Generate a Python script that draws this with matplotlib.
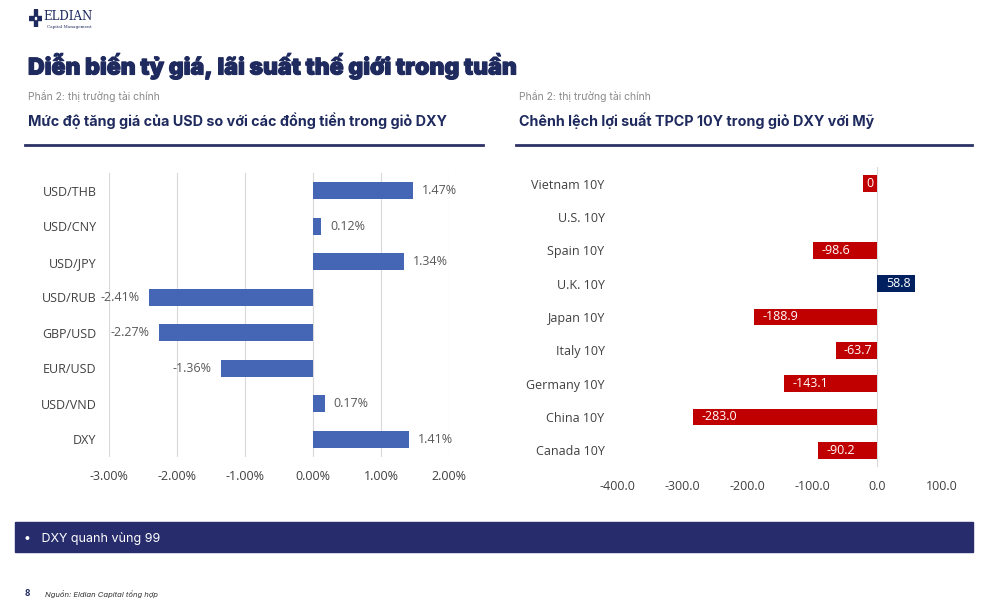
import matplotlib.pyplot as plt
import matplotlib.patches as mpatches
import matplotlib.patheffects as pe
import numpy as np

W, H = 990, 616

# left chart: USD change vs DXY basket currencies (%)
fx_pairs = ["USD/THB", "USD/CNY", "USD/JPY", "USD/RUB", "GBP/USD", "EUR/USD", "USD/VND", "DXY"]
fx_change = [1.47, 0.12, 1.34, -2.41, -2.27, -1.36, 0.17, 1.41]
fx_ticks = [-3, -2, -1, 0, 1, 2]

# right chart: 10Y yield spread vs U.S. (bps)
bonds = ["Vietnam 10Y", "U.S. 10Y", "Spain 10Y", "U.K. 10Y", "Japan 10Y",
         "Italy 10Y", "Germany 10Y", "China 10Y", "Canada 10Y"]
spread = [-21.5, 0.0, -98.6, 58.8, -188.9, -63.7, -143.1, -283.0, -90.2]
spread_labels = ["0", "", "-98.6", "58.8", "-188.9", "-63.7", "-143.1", "-283.0", "-90.2"]
spread_ticks = [-400, -300, -200, -100, 0, 100]

NAVY = "#1f2a5e"
GRAY_TXT = "#595959"
CHART_FONT = "Open Sans"
HEAD_FONT = "Inter"


def px_axes(fig, x0, y0, x1, y1):
    return fig.add_axes([x0 / W, 1 - y1 / H, (x1 - x0) / W, (y1 - y0) / H])


def fx(x):
    return x / W


def fy(y):
    return 1 - y / H


fig = plt.figure(figsize=(9.9, 6.16), dpi=100)
fig.patch.set_facecolor("white")

# logo
ax_logo = px_axes(fig, 29, 9, 42, 27)
ax_logo.set_xlim(0, 1)
ax_logo.set_ylim(0, 1)
ax_logo.axis("off")
ax_logo.add_patch(mpatches.Rectangle((0.38, 0.0), 0.24, 1.0, color=NAVY))
ax_logo.add_patch(mpatches.Rectangle((0.0, 0.38), 1.0, 0.24, color=NAVY))
ax_logo.add_patch(mpatches.Rectangle((0.46, 0.44), 0.08, 0.12, color="white"))
fig.text(fx(43), fy(17), "ELDIAN", family="DejaVu Serif", fontsize=8.5,
         color=NAVY, va="center", ha="left")
fig.text(fx(47), fy(27), "Capital Management", family="DejaVu Serif", fontsize=3,
         color=NAVY, va="center", ha="left")

# headings
fig.text(fx(28), fy(66), "Diễn biến tỷ giá, lãi suất thế giới trong tuần",
         family=HEAD_FONT, fontweight="black", fontsize=16.6, color=NAVY,
         va="center", ha="left",
         path_effects=[pe.withStroke(linewidth=0.8, foreground=NAVY)])
for x0, x1, title in [(27, 483, "Mức độ tăng giá của USD so với các đồng tiền trong giỏ DXY"),
                      (518, 972, "Chênh lệch lợi suất TPCP 10Y trong giỏ DXY với Mỹ")]:
    fig.text(fx(x0 + 1), fy(96), "Phần 2: thị trường tài chính", family=HEAD_FONT,
             fontsize=7.5, color="#8a8a8a", va="center", ha="left")
    fig.text(fx(x0 + 1), fy(121), title, family=HEAD_FONT, fontweight="bold",
             fontsize=10.3, color=NAVY, va="center", ha="left")
    fig.add_artist(plt.Line2D([fx(x0 - 2), fx(x1)], [fy(145), fy(145)],
                              color="#2c3266", lw=2))

# left chart
ax1 = px_axes(fig, 109, 173, 449, 457)
y1 = np.arange(len(fx_pairs))
ax1.barh(y1, fx_change, height=0.49, color="#4566b5", zorder=3)
ax1.set_xlim(-3, 2)
ax1.set_ylim(len(fx_pairs) - 0.5, -0.5)
ax1.set_xticks(fx_ticks)
ax1.set_xticklabels([f"{t:.2f}%" for t in fx_ticks], family=CHART_FONT,
                    fontsize=9, color="#404040")
ax1.set_yticks(y1)
ax1.set_yticklabels(fx_pairs, family=CHART_FONT, fontsize=9, color="#404040")
ax1.tick_params(axis="both", length=0)
ax1.tick_params(axis="y", pad=9)
ax1.tick_params(axis="x", pad=9)
ax1.grid(axis="x", color="#d9d9d9", lw=0.8, zorder=0)
for s in ax1.spines.values():
    s.set_visible(False)
for yi, v in zip(y1, fx_change):
    ax1.annotate(f"{v:.2f}%", (v, yi), xytext=(6.5 if v > 0 else -6.5, 0),
                 textcoords="offset points", ha="left" if v > 0 else "right",
                 va="center", family=CHART_FONT, fontsize=9, color=GRAY_TXT)

# right chart
ax2 = px_axes(fig, 617, 167, 942, 467)
y2 = np.arange(len(bonds))
colors = ["#002060" if v > 0 else "#c00000" for v in spread]
ax2.barh(y2, spread, height=0.5, color=colors, zorder=3)
ax2.set_xlim(-400, 100)
ax2.set_ylim(len(bonds) - 0.5, -0.5)
ax2.axvline(0, color="#d9d9d9", lw=0.8, zorder=1)
ax2.set_xticks(spread_ticks)
ax2.set_xticklabels([f"{t:.1f}" for t in spread_ticks], family=CHART_FONT,
                    fontsize=9, color="#404040")
ax2.set_yticks(y2)
ax2.set_yticklabels(bonds, family=CHART_FONT, fontsize=9, color="#404040")
ax2.tick_params(axis="both", length=0)
ax2.tick_params(axis="y", pad=9)
ax2.tick_params(axis="x", pad=9)
for s in ax2.spines.values():
    s.set_visible(False)
for yi, v, lab in zip(y2, spread, spread_labels):
    if not lab:
        continue
    if v > 0:
        ax2.annotate(lab, (v, yi), xytext=(-3, 0), textcoords="offset points",
                     ha="right", va="center", family=CHART_FONT, fontsize=9,
                     color="white", zorder=4)
    elif v > -40:
        ax2.annotate(lab, (v / 2, yi), ha="center", va="center",
                     family=CHART_FONT, fontsize=9, color="white", zorder=4)
    else:
        ax2.annotate(lab, (v, yi), xytext=(6, 0), textcoords="offset points",
                     ha="left", va="center", family=CHART_FONT, fontsize=9,
                     color="white", zorder=4)

# bottom band
fig.add_artist(mpatches.Rectangle((fx(15), fy(552)), fx(958), 30 / H,
                                  color="#272c6c", transform=fig.transFigure))
fig.text(fx(24), fy(539), "•   DXY quanh vùng 99", family=HEAD_FONT, fontsize=9,
         color="white", va="center", ha="left")

# footer
fig.text(fx(25), fy(594), "8", family=HEAD_FONT, fontweight="bold", fontsize=6,
         color=NAVY, va="center", ha="left")
fig.text(fx(45), fy(594), "Nguồn: Eldian Capital tổng hợp", family=HEAD_FONT,
         style="italic", fontsize=5.5, color="#333333", va="center", ha="left")

fig.savefig("out.png", dpi=100, facecolor="white")
